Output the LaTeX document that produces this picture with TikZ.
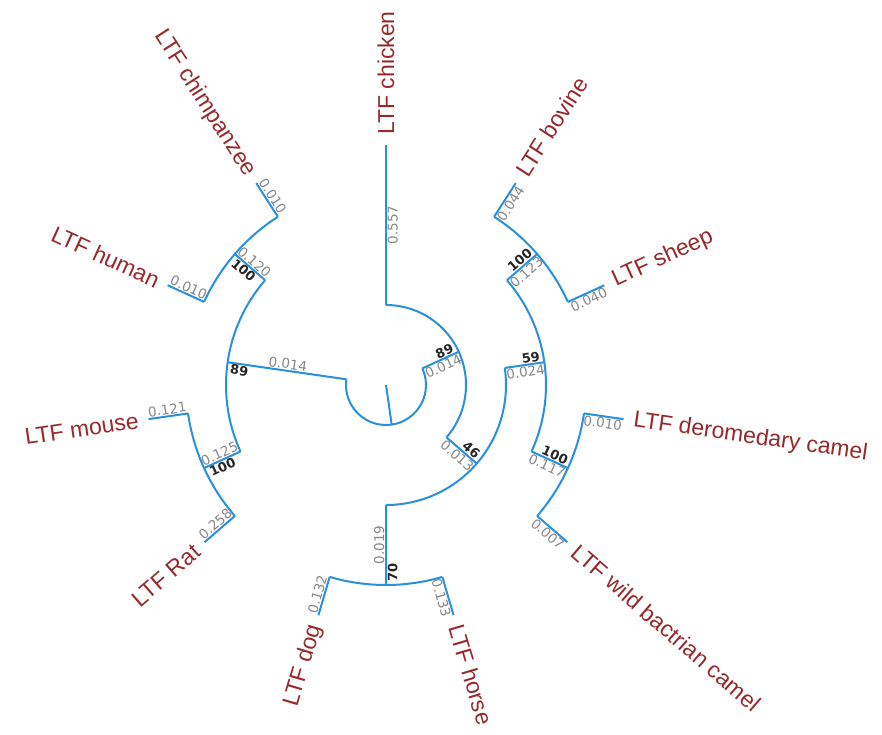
\documentclass[tikz,border=0pt]{standalone}
\usepackage{fontspec}
\setmainfont{Liberation Sans}
\newfontfamily\numfont{DejaVu Sans}
\definecolor{branchblue}{RGB}{40,145,222}
\definecolor{taxred}{RGB}{150,42,42}
\definecolor{lengray}{RGB}{135,135,135}
\begin{document}
\begin{tikzpicture}[x=1pt,y=1pt,
    branch/.style={branchblue,line width=2pt},
    taxon/.style={taxred,inner sep=0pt,font=\fontsize{23}{27}\selectfont},
    blen/.style={lengray,inner sep=1.5pt,font=\numfont\fontsize{13.5}{15}\selectfont},
    boot/.style={black!85,inner sep=1.5pt,font=\numfont\bfseries\fontsize{13}{15}\selectfont}]
    \useasboundingbox (-386,-349) rectangle (496,385);
    \coordinate (centre) at (0,0);
    \coordinate (root) at (278.18:40);
    \coordinate (n89l) at (171.82:160);
    \coordinate (n89lb) at (171.82:40);
    \coordinate (n89r) at (24.55:80);
    \coordinate (n89rb) at (24.55:40);
    \coordinate (n46) at (-40.91:120);
    \coordinate (n46b) at (-40.91:80);
    \coordinate (n59) at (8.18:160);
    \coordinate (n59b) at (8.18:120);
    \coordinate (nbs) at (40.91:200);
    \coordinate (nbsb) at (40.91:160);
    \coordinate (ncm) at (-24.55:200);
    \coordinate (ncmb) at (-24.55:160);
    \coordinate (ndh) at (-90:200);
    \coordinate (ndhb) at (-90:120);
    \coordinate (nhc) at (139.09:200);
    \coordinate (nhcb) at (139.09:160);
    \coordinate (nrd) at (204.55:200);
    \coordinate (nrdb) at (204.55:160);
    \coordinate (chicken) at (90:240);
    \coordinate (chickenb) at (90:80);
    \coordinate (bovine) at (57.27:240);
    \coordinate (bovineb) at (57.27:200);
    \coordinate (sheep) at (24.55:240);
    \coordinate (sheepb) at (24.55:200);
    \coordinate (dromedary) at (-8.18:240);
    \coordinate (dromedaryb) at (-8.18:200);
    \coordinate (bactrian) at (-40.91:240);
    \coordinate (bactrianb) at (-40.91:200);
    \coordinate (horse) at (-73.64:240);
    \coordinate (horseb) at (-73.64:200);
    \coordinate (dog) at (-106.36:240);
    \coordinate (dogb) at (-106.36:200);
    \coordinate (rat) at (220.91:240);
    \coordinate (ratb) at (220.91:200);
    \coordinate (mouse) at (188.18:240);
    \coordinate (mouseb) at (188.18:200);
    \coordinate (human) at (155.45:240);
    \coordinate (humanb) at (155.45:200);
    \coordinate (chimp) at (122.73:240);
    \coordinate (chimpb) at (122.73:200);

    \draw[branch] (centre) -- (root);
    \draw[branch] (n89lb) arc[start angle=171.82,end angle=384.55,radius=40];
    \draw[branch] (n89lb) -- (n89l);
    \draw[branch] (n89rb) -- (n89r);
    \draw[branch] (n46b) arc[start angle=-40.91,end angle=90,radius=80];
    \draw[branch] (chickenb) -- (chicken);
    \draw[branch] (n46b) -- (n46);
    \draw[branch] (ndhb) arc[start angle=-90,end angle=8.18,radius=120];
    \draw[branch] (ndhb) -- (ndh);
    \draw[branch] (n59b) -- (n59);
    \draw[branch] (ncmb) arc[start angle=-24.55,end angle=40.91,radius=160];
    \draw[branch] (nbsb) -- (nbs);
    \draw[branch] (ncmb) -- (ncm);
    \draw[branch] (sheepb) arc[start angle=24.55,end angle=57.27,radius=200];
    \draw[branch] (bactrianb) arc[start angle=-40.91,end angle=-8.18,radius=200];
    \draw[branch] (dogb) arc[start angle=-106.36,end angle=-73.64,radius=200];
    \draw[branch] (nhcb) arc[start angle=139.09,end angle=204.55,radius=160];
    \draw[branch] (nhcb) -- (nhc);
    \draw[branch] (nrdb) -- (nrd);
    \draw[branch] (mouseb) arc[start angle=188.18,end angle=220.91,radius=200];
    \draw[branch] (chimpb) arc[start angle=122.73,end angle=155.45,radius=200];
    \draw[branch] (bovineb) -- (bovine);
    \draw[branch] (sheepb) -- (sheep);
    \draw[branch] (dromedaryb) -- (dromedary);
    \draw[branch] (bactrianb) -- (bactrian);
    \draw[branch] (horseb) -- (horse);
    \draw[branch] (dogb) -- (dog);
    \draw[branch] (ratb) -- (rat);
    \draw[branch] (mouseb) -- (mouse);
    \draw[branch] (humanb) -- (human);
    \draw[branch] (chimpb) -- (chimp);

    \node[taxon,anchor=west,rotate=90] (lchicken) at (90:250) {LTF chicken};
    \node[taxon,anchor=west,rotate=57.27] (lbovine) at (57.27:250) {LTF bovine};
    \node[taxon,anchor=west,rotate=24.55] (lsheep) at (24.55:250) {LTF sheep};
    \node[taxon,anchor=west,rotate=-8.18] (ldromedary) at (-8.18:250) {LTF deromedary camel};
    \node[taxon,anchor=west,rotate=-40.91] (lbactrian) at (-40.91:250) {LTF wild bactrian camel};
    \node[taxon,anchor=west,rotate=-73.64] (lhorse) at (-73.64:250) {LTF horse};
    \node[taxon,anchor=east,rotate=73.64] (ldog) at (-106.36:250) {LTF dog};
    \node[taxon,anchor=east,rotate=40.91] (lrat) at (220.91:250) {LTF Rat};
    \node[taxon,anchor=east,rotate=8.18] (lmouse) at (188.18:250) {LTF mouse};
    \node[taxon,anchor=east,rotate=-24.55] (lhuman) at (155.45:250) {LTF human};
    \node[taxon,anchor=east,rotate=-57.27] (lchimp) at (122.73:250) {LTF chimpanzee};

    \node[blen,anchor=north,rotate=90] (bchicken) at (90:160) {0.557};
    \node[blen,anchor=north,rotate=57.27] (bbovine) at (57.27:220) {0.044};
    \node[blen,anchor=north,rotate=24.55] (bsheep) at (24.55:220) {0.040};
    \node[blen,anchor=north,rotate=-8.18] (bdromedary) at (-8.18:220) {0.010};
    \node[blen,anchor=north,rotate=-40.91] (bbactrian) at (-40.91:220) {0.007};
    \node[blen,anchor=north,rotate=-73.64] (bhorse) at (-73.64:220) {0.133};
    \node[blen,anchor=south,rotate=73.64] (bdog) at (-106.36:220) {0.132};
    \node[blen,anchor=south,rotate=40.91] (brat) at (220.91:220) {0.258};
    \node[blen,anchor=south,rotate=8.18] (bmouse) at (188.18:220) {0.121};
    \node[blen,anchor=south,rotate=-24.55] (bhuman) at (155.45:220) {0.010};
    \node[blen,anchor=south,rotate=-57.27] (bchimp) at (122.73:220) {0.010};
    \node[blen,anchor=north,rotate=40.91] (bbs) at (40.91:180) {0.123};
    \node[blen,anchor=north,rotate=-24.55] (bcm) at (-24.55:180) {0.117};
    \node[blen,anchor=north,rotate=8.18] (b59) at (8.18:140) {0.024};
    \node[blen,anchor=south,rotate=90] (bdh) at (-90:160) {0.019};
    \node[blen,anchor=north,rotate=-40.91] (b46) at (-40.91:100) {0.013};
    \node[blen,anchor=north,rotate=24.55] (b89r) at (24.55:60) {0.014};
    \node[blen,anchor=south,rotate=-8.18] (b89l) at (171.82:100) {0.014};
    \node[blen,anchor=south,rotate=-40.91] (bhc) at (139.09:180) {0.120};
    \node[blen,anchor=south,rotate=24.55] (brd) at (204.55:180) {0.125};

    \node[boot,anchor=south east,rotate=40.91] (sbs) at (40.91:198) {100};
    \node[boot,anchor=south east,rotate=-24.55] (scm) at (-24.55:198) {100};
    \node[boot,anchor=south east,rotate=8.18] (s59) at (8.18:158) {59};
    \node[boot,anchor=south east,rotate=-40.91] (s46) at (-40.91:118) {46};
    \node[boot,anchor=south east,rotate=24.55] (s89r) at (24.55:78) {89};
    \node[boot,anchor=north west,rotate=90] (sdh) at (-90:198) {70};
    \node[boot,anchor=north west,rotate=-8.18] (s89l) at (171.82:158) {89};
    \node[boot,anchor=north west,rotate=-40.91] (shc) at (139.09:198) {100};
    \node[boot,anchor=north west,rotate=24.55] (srd) at (204.55:198) {100};
\end{tikzpicture}
\end{document}
